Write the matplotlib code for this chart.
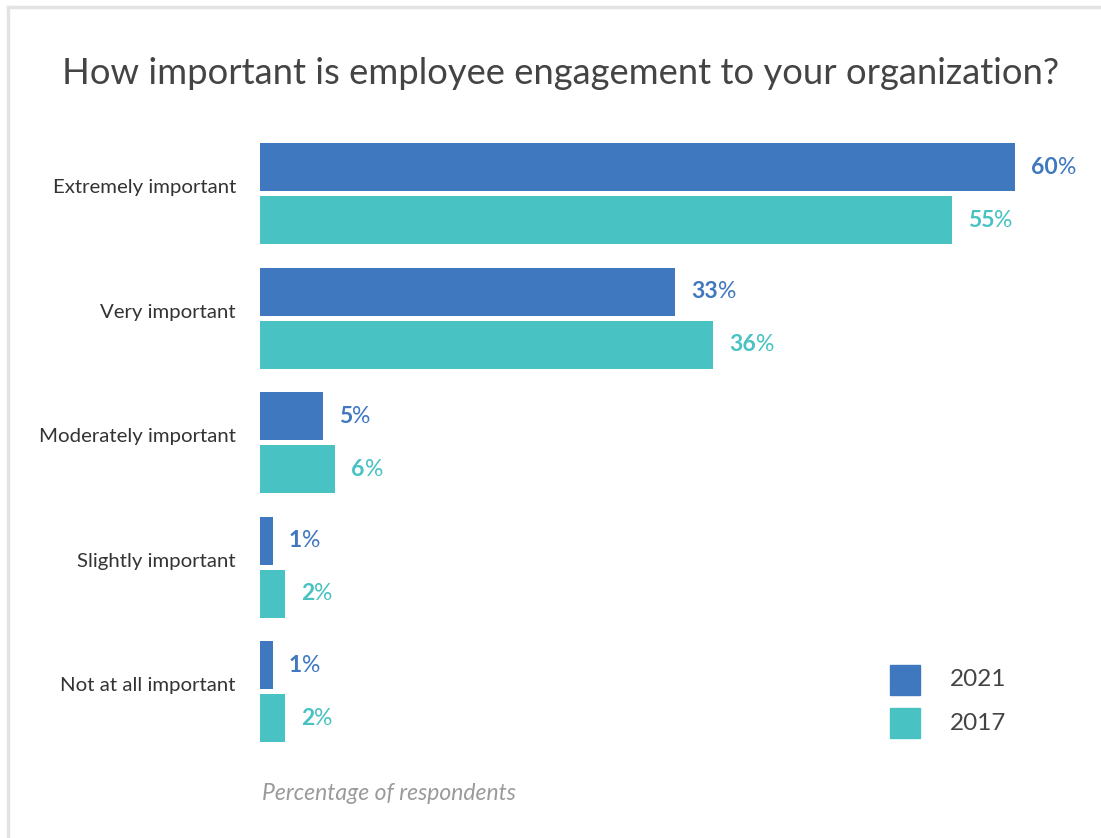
import matplotlib.pyplot as plt
from matplotlib.lines import Line2D
from matplotlib.patches import Rectangle

categories = ["Extremely important", "Very important", "Moderately important",
              "Slightly important", "Not at all important"]
pct_2021 = [60, 33, 5, 1, 1]
pct_2017 = [55, 36, 6, 2, 2]
years = ["2021", "2017"]

c2021 = "#3f78bf"
c2017 = "#48c2c2"
dark = "#444444"

plt.rcParams["font.family"] = ["Lato", "DejaVu Sans"]

W, H = 1101, 838
fig = plt.figure(figsize=(W / 100, H / 100), dpi=100)
ax = fig.add_axes([0, 0, 1, 1])

# axis in percent horizontally, pixels vertically
x0 = 260
scale = 12.58
ax.set_xlim(-x0 / scale, (W - x0) / scale)
ax.set_ylim(H, 0)
ax.axis("off")

bar_h = 48
gap = 5
top0 = 143
step = 124.5

for i, cat in enumerate(categories):
    y_top = top0 + i * step
    y_a = y_top + bar_h / 2
    y_b = y_top + bar_h + gap + bar_h / 2
    ax.barh(y_a, pct_2021[i], height=bar_h, color=c2021, left=0)
    ax.barh(y_b, pct_2017[i], height=bar_h, color=c2017, left=0)

    ax.text(-24 / scale, (y_a + y_b) / 2 - 6, cat, ha="right", va="center",
            fontsize=14.7, color="#333333")

    for val, yy, col in [(pct_2021[i], y_a, c2021), (pct_2017[i], y_b, c2017)]:
        t = ax.text(val + 16 / scale, yy, str(val), ha="left", va="center",
                    fontsize=16.5, fontweight="bold", color=col)
        ax.annotate("%", xy=(1, 0.5), xycoords=t, xytext=(0, 0),
                    textcoords="offset points", ha="left", va="center",
                    fontsize=16.5, color=col)

fig.text(561 / W, 1 - 73 / H, "How important is employee engagement to your organization?",
         ha="center", va="center", fontsize=26.2, color=dark)

# legend
for k, (lab, col) in enumerate(zip(years, [c2021, c2017])):
    ytop = 665 + k * 43
    fig.patches.append(Rectangle((890 / W, 1 - (ytop + 30) / H), 30 / W, 30 / H,
                                 transform=fig.transFigure, color=col))
    fig.text(950 / W, 1 - (ytop + 15) / H, lab, ha="left", va="center",
             fontsize=17.5, color=dark)

fig.text(262 / W, 1 - 793 / H, "Percentage of respondents", ha="left", va="center",
         fontsize=16.5, style="italic", color="#9a9a9a")

# light frame on top and left
fig.lines.append(Line2D([8 / W, 1], [1 - 7 / H, 1 - 7 / H], transform=fig.transFigure,
                        color="#e3e3e3", lw=2.5))
fig.lines.append(Line2D([8 / W, 8 / W], [0, 1 - 7 / H], transform=fig.transFigure,
                        color="#e3e3e3", lw=2.5))

fig.savefig("out.png", dpi=100)
